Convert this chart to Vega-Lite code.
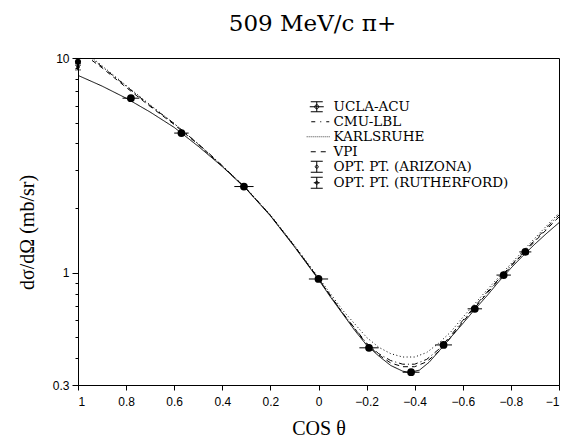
{
  "$schema": "https://vega.github.io/schema/vega-lite/v6.json",
  "width": 481,
  "height": 327,
  "autosize": {"type": "none"},
  "padding": {"left": 78, "top": 58, "right": 5, "bottom": 55},
  "background": "white",
  "title": {
    "text": "509 MeV/c  π+",
    "font": "DejaVu Serif",
    "fontSize": 23,
    "fontWeight": "normal",
    "color": "black",
    "anchor": "middle",
    "frame": "group",
    "baseline": "alphabetic",
    "offset": 19,
    "dx": -6,
    "dy": 21
  },
  "config": {
    "view": {"stroke": "black", "strokeWidth": 1},
    "axis": {
      "grid": false,
      "domainColor": "black",
      "tickColor": "black",
      "labelColor": "black",
      "titleColor": "black",
      "labelFont": "Liberation Sans",
      "labelFontSize": 12,
      "titleFont": "Liberation Serif",
      "titleFontSize": 20,
      "titleFontWeight": "normal"
    }
  },
  "datasets": {
    "curves": [
      {"model": "Fit", "cos": 1, "xs": 8.3},
      {"model": "Fit", "cos": 0.9, "xs": 7.4},
      {"model": "Fit", "cos": 0.8, "xs": 6.5},
      {"model": "Fit", "cos": 0.7, "xs": 5.6},
      {"model": "Fit", "cos": 0.6, "xs": 4.75},
      {"model": "Fit", "cos": 0.5, "xs": 3.88},
      {"model": "Fit", "cos": 0.4, "xs": 3.12},
      {"model": "Fit", "cos": 0.3, "xs": 2.45},
      {"model": "Fit", "cos": 0.2, "xs": 1.84},
      {"model": "Fit", "cos": 0.1, "xs": 1.32},
      {"model": "Fit", "cos": 0, "xs": 0.93},
      {"model": "Fit", "cos": -0.05, "xs": 0.77},
      {"model": "Fit", "cos": -0.1, "xs": 0.645},
      {"model": "Fit", "cos": -0.15, "xs": 0.54},
      {"model": "Fit", "cos": -0.2, "xs": 0.46},
      {"model": "Fit", "cos": -0.25, "xs": 0.41},
      {"model": "Fit", "cos": -0.3, "xs": 0.37},
      {"model": "Fit", "cos": -0.35, "xs": 0.348},
      {"model": "Fit", "cos": -0.38, "xs": 0.343},
      {"model": "Fit", "cos": -0.42, "xs": 0.352},
      {"model": "Fit", "cos": -0.46, "xs": 0.383},
      {"model": "Fit", "cos": -0.5, "xs": 0.43},
      {"model": "Fit", "cos": -0.55, "xs": 0.5},
      {"model": "Fit", "cos": -0.6, "xs": 0.58},
      {"model": "Fit", "cos": -0.65, "xs": 0.675},
      {"model": "Fit", "cos": -0.7, "xs": 0.78},
      {"model": "Fit", "cos": -0.75, "xs": 0.91},
      {"model": "Fit", "cos": -0.8, "xs": 1.05},
      {"model": "Fit", "cos": -0.85, "xs": 1.2},
      {"model": "Fit", "cos": -0.9, "xs": 1.36},
      {"model": "Fit", "cos": -0.95, "xs": 1.53},
      {"model": "Fit", "cos": -1, "xs": 1.71},

      {"model": "CMU-LBL", "cos": 1, "xs": 11.3},
      {"model": "CMU-LBL", "cos": 0.95, "xs": 10.1},
      {"model": "CMU-LBL", "cos": 0.9, "xs": 9.1},
      {"model": "CMU-LBL", "cos": 0.8, "xs": 7.4},
      {"model": "CMU-LBL", "cos": 0.7, "xs": 6.0},
      {"model": "CMU-LBL", "cos": 0.6, "xs": 4.95},
      {"model": "CMU-LBL", "cos": 0.5, "xs": 3.98},
      {"model": "CMU-LBL", "cos": 0.45, "xs": 3.55},
      {"model": "CMU-LBL", "cos": 0.4, "xs": 3.15},
      {"model": "CMU-LBL", "cos": 0.3, "xs": 2.46},
      {"model": "CMU-LBL", "cos": 0.2, "xs": 1.85},
      {"model": "CMU-LBL", "cos": 0.1, "xs": 1.33},
      {"model": "CMU-LBL", "cos": 0, "xs": 0.94},
      {"model": "CMU-LBL", "cos": -0.1, "xs": 0.65},
      {"model": "CMU-LBL", "cos": -0.2, "xs": 0.47},
      {"model": "CMU-LBL", "cos": -0.25, "xs": 0.42},
      {"model": "CMU-LBL", "cos": -0.3, "xs": 0.39},
      {"model": "CMU-LBL", "cos": -0.35, "xs": 0.375},
      {"model": "CMU-LBL", "cos": -0.4, "xs": 0.375},
      {"model": "CMU-LBL", "cos": -0.45, "xs": 0.395},
      {"model": "CMU-LBL", "cos": -0.5, "xs": 0.44},
      {"model": "CMU-LBL", "cos": -0.55, "xs": 0.51},
      {"model": "CMU-LBL", "cos": -0.6, "xs": 0.6},
      {"model": "CMU-LBL", "cos": -0.7, "xs": 0.81},
      {"model": "CMU-LBL", "cos": -0.8, "xs": 1.08},
      {"model": "CMU-LBL", "cos": -0.9, "xs": 1.42},
      {"model": "CMU-LBL", "cos": -1, "xs": 1.86},

      {"model": "KARLSRUHE", "cos": 1, "xs": 11.5},
      {"model": "KARLSRUHE", "cos": 0.95, "xs": 10.2},
      {"model": "KARLSRUHE", "cos": 0.9, "xs": 9.2},
      {"model": "KARLSRUHE", "cos": 0.8, "xs": 7.45},
      {"model": "KARLSRUHE", "cos": 0.7, "xs": 6.05},
      {"model": "KARLSRUHE", "cos": 0.6, "xs": 4.95},
      {"model": "KARLSRUHE", "cos": 0.5, "xs": 3.98},
      {"model": "KARLSRUHE", "cos": 0.4, "xs": 3.15},
      {"model": "KARLSRUHE", "cos": 0.3, "xs": 2.47},
      {"model": "KARLSRUHE", "cos": 0.2, "xs": 1.86},
      {"model": "KARLSRUHE", "cos": 0.1, "xs": 1.34},
      {"model": "KARLSRUHE", "cos": 0, "xs": 0.95},
      {"model": "KARLSRUHE", "cos": -0.1, "xs": 0.67},
      {"model": "KARLSRUHE", "cos": -0.2, "xs": 0.5},
      {"model": "KARLSRUHE", "cos": -0.25, "xs": 0.45},
      {"model": "KARLSRUHE", "cos": -0.3, "xs": 0.42},
      {"model": "KARLSRUHE", "cos": -0.35, "xs": 0.405},
      {"model": "KARLSRUHE", "cos": -0.4, "xs": 0.405},
      {"model": "KARLSRUHE", "cos": -0.45, "xs": 0.425},
      {"model": "KARLSRUHE", "cos": -0.5, "xs": 0.47},
      {"model": "KARLSRUHE", "cos": -0.55, "xs": 0.53},
      {"model": "KARLSRUHE", "cos": -0.6, "xs": 0.62},
      {"model": "KARLSRUHE", "cos": -0.7, "xs": 0.83},
      {"model": "KARLSRUHE", "cos": -0.8, "xs": 1.1},
      {"model": "KARLSRUHE", "cos": -0.9, "xs": 1.45},
      {"model": "KARLSRUHE", "cos": -1, "xs": 1.9},

      {"model": "VPI", "cos": 1, "xs": 11.0},
      {"model": "VPI", "cos": 0.95, "xs": 9.9},
      {"model": "VPI", "cos": 0.9, "xs": 9.0},
      {"model": "VPI", "cos": 0.8, "xs": 7.3},
      {"model": "VPI", "cos": 0.7, "xs": 5.95},
      {"model": "VPI", "cos": 0.6, "xs": 4.9},
      {"model": "VPI", "cos": 0.5, "xs": 3.95},
      {"model": "VPI", "cos": 0.4, "xs": 3.13},
      {"model": "VPI", "cos": 0.3, "xs": 2.46},
      {"model": "VPI", "cos": 0.2, "xs": 1.85},
      {"model": "VPI", "cos": 0.1, "xs": 1.33},
      {"model": "VPI", "cos": 0, "xs": 0.935},
      {"model": "VPI", "cos": -0.1, "xs": 0.65},
      {"model": "VPI", "cos": -0.2, "xs": 0.465},
      {"model": "VPI", "cos": -0.25, "xs": 0.415},
      {"model": "VPI", "cos": -0.3, "xs": 0.38},
      {"model": "VPI", "cos": -0.35, "xs": 0.365},
      {"model": "VPI", "cos": -0.4, "xs": 0.365},
      {"model": "VPI", "cos": -0.45, "xs": 0.385},
      {"model": "VPI", "cos": -0.5, "xs": 0.43},
      {"model": "VPI", "cos": -0.55, "xs": 0.5},
      {"model": "VPI", "cos": -0.6, "xs": 0.59},
      {"model": "VPI", "cos": -0.7, "xs": 0.8},
      {"model": "VPI", "cos": -0.8, "xs": 1.07},
      {"model": "VPI", "cos": -0.9, "xs": 1.4},
      {"model": "VPI", "cos": -1, "xs": 1.82}
    ],
    "points": [
      {"series": "UCLA-ACU", "cos": 0.78, "xs": 6.5, "cos_lo": 0.745, "cos_hi": 0.815, "xs_lo": 6.3, "xs_hi": 6.7},
      {"series": "UCLA-ACU", "cos": 0.57, "xs": 4.47, "cos_lo": 0.54, "cos_hi": 0.60, "xs_lo": 4.35, "xs_hi": 4.6},
      {"series": "UCLA-ACU", "cos": 0.31, "xs": 2.52, "cos_lo": 0.27, "cos_hi": 0.35, "xs_lo": 2.45, "xs_hi": 2.6},
      {"series": "UCLA-ACU", "cos": 0.0, "xs": 0.935, "cos_lo": -0.04, "cos_hi": 0.04, "xs_lo": 0.905, "xs_hi": 0.965},
      {"series": "UCLA-ACU", "cos": -0.21, "xs": 0.447, "cos_lo": -0.25, "cos_hi": -0.17, "xs_lo": 0.432, "xs_hi": 0.462},
      {"series": "UCLA-ACU", "cos": -0.385, "xs": 0.344, "cos_lo": -0.42, "cos_hi": -0.35, "xs_lo": 0.334, "xs_hi": 0.354},
      {"series": "UCLA-ACU", "cos": -0.52, "xs": 0.461, "cos_lo": -0.555, "cos_hi": -0.485, "xs_lo": 0.447, "xs_hi": 0.475},
      {"series": "UCLA-ACU", "cos": -0.65, "xs": 0.679, "cos_lo": -0.68, "cos_hi": -0.62, "xs_lo": 0.66, "xs_hi": 0.7},
      {"series": "UCLA-ACU", "cos": -0.77, "xs": 0.975, "cos_lo": -0.8, "cos_hi": -0.74, "xs_lo": 0.945, "xs_hi": 1.005},
      {"series": "UCLA-ACU", "cos": -0.86, "xs": 1.25, "cos_lo": -0.885, "cos_hi": -0.835, "xs_lo": 1.21, "xs_hi": 1.29},
      {"series": "OPT. PT. (ARIZONA)", "cos": 1, "xs": 9.6, "cos_lo": 1, "cos_hi": 1, "xs_lo": 9.25, "xs_hi": 9.95},
      {"series": "OPT. PT. (RUTHERFORD)", "cos": 1, "xs": 9.1, "cos_lo": 1, "cos_hi": 1, "xs_lo": 8.8, "xs_hi": 9.4}
    ]
  },
  "layer": [
    {
      "data": {"name": "curves"},
      "mark": {"type": "line", "clip": true, "color": "black", "strokeWidth": 1},
      "encoding": {
        "x": {
          "field": "cos",
          "type": "quantitative",
          "title": "COS θ",
          "scale": {"domain": [-1, 1], "reverse": true, "nice": false, "zero": false},
          "axis": {
            "values": [1, 0.8, 0.6, 0.4, 0.2, 0, -0.2, -0.4, -0.6, -0.8, -1],
            "format": "~g",
            "tickSize": 5,
            "labelPadding": 6,
            "titleY": 43,
            "titleBaseline": "middle"
          }
        },
        "y": {
          "field": "xs",
          "type": "quantitative",
          "title": "dσ/dΩ (mb/sr)",
          "scale": {"type": "log", "domain": [0.3, 10], "nice": false},
          "axis": {
            "values": [0.3, 0.4, 0.5, 0.6, 0.7, 0.8, 0.9, 1, 2, 3, 4, 5, 6, 7, 8, 9, 10],
            "format": "~g",
            "labelExpr": "datum.value === 0.3 || datum.value === 1 || datum.value === 10 ? datum.label : ''",
            "tickSize": {"condition": {"test": "datum.value === 0.3 || datum.value === 1 || datum.value === 10", "value": 6}, "value": 3},
            "labelPadding": 3,
            "titleX": -51,
            "titleY": 174,
            "titleAlign": "center",
            "titleBaseline": "middle",
            "titleAngle": -90
          }
        },
        "detail": {"field": "model"},
        "strokeDash": {
          "field": "model",
          "type": "nominal",
          "legend": null,
          "scale": {
            "domain": ["Fit", "CMU-LBL", "KARLSRUHE", "VPI"],
            "range": [[1, 0], [6, 3, 1, 3], [1, 2.5], [5, 4]]
          }
        }
      }
    },
    {
      "data": {"name": "points"},
      "mark": {"type": "point", "filled": false, "color": "black", "strokeWidth": 1, "opacity": 0, "size": 20},
      "encoding": {
        "x": {"field": "cos", "type": "quantitative", "title": "COS θ"},
        "y": {"field": "xs", "type": "quantitative", "title": "dσ/dΩ (mb/sr)"},
        "shape": {
          "field": "series",
          "type": "nominal",
          "scale": {
            "domain": ["UCLA-ACU", "CMU-LBL", "KARLSRUHE", "VPI", "OPT. PT. (ARIZONA)", "OPT. PT. (RUTHERFORD)"],
            "range": [
              "M-1.2,-1H1.2M0,-1V1M-1.2,1H1.2M-1.4,0H1.4M-0.4,0A0.4,0.4 0 1 1 0.4,0A0.4,0.4 0 1 1 -0.4,0Z",
              "M-1.1,0H-0.3M0.7,0H0.9M1.9,0H2.5",
              "M-2,0H-1.85M-1.6,0H-1.45M-1.2,0H-1.05M-0.8,0H-0.65M-0.4,0H-0.25M0,0H0.15M0.4,0H0.55M0.8,0H0.95M1.2,0H1.35M1.6,0H1.75M2,0H2.15M2.4,0H2.55",
              "M-1.2,0H-0.2M0.8,0H1.8",
              "M-1.2,-1.1H1.2M0,-1.1V1.1M-1.2,1.1H1.2M-0.3,0A0.3,0.3 0 1 1 0.3,0A0.3,0.3 0 1 1 -0.3,0Z",
              "M-1.2,-1.1H1.2M0,-1.1V1.1M-1.2,1.1H1.2M-0.6,0H0.6M-0.3,0A0.3,0.3 0 1 1 0.3,0A0.3,0.3 0 1 1 -0.3,0Z"
            ]
          },
          "legend": {
            "orient": "none",
            "legendX": 232,
            "legendY": 42,
            "title": null,
            "padding": 0,
            "rowPadding": 0,
            "symbolSize": 100,
            "symbolOpacity": 1,
            "symbolFillColor": "black",
            "symbolStrokeColor": "black",
            "symbolStrokeWidth": 1,
            "labelFont": "DejaVu Serif",
            "labelFontSize": 13.5,
            "labelColor": "black",
            "labelOffset": 10,
            "labelLimit": 300
          }
        }
      }
    },
    {
      "data": {"name": "points"},
      "mark": {"type": "rule", "color": "black", "strokeWidth": 1},
      "encoding": {
        "x": {"field": "cos_lo", "type": "quantitative", "title": "COS θ"},
        "x2": {"field": "cos_hi"},
        "y": {"field": "xs", "type": "quantitative", "title": "dσ/dΩ (mb/sr)"}
      }
    },
    {
      "data": {"name": "points"},
      "mark": {"type": "rule", "color": "black", "strokeWidth": 1.5},
      "encoding": {
        "x": {"field": "cos", "type": "quantitative", "title": "COS θ"},
        "y": {"field": "xs_lo", "type": "quantitative", "title": "dσ/dΩ (mb/sr)"},
        "y2": {"field": "xs_hi"}
      }
    },
    {
      "data": {"name": "points"},
      "transform": [{"filter": "datum.series !== 'UCLA-ACU'"}],
      "mark": {"type": "tick", "orient": "horizontal", "color": "black", "size": 6, "thickness": 1},
      "encoding": {
        "x": {"field": "cos", "type": "quantitative", "title": "COS θ"},
        "y": {"field": "xs_lo", "type": "quantitative", "title": "dσ/dΩ (mb/sr)"}
      }
    },
    {
      "data": {"name": "points"},
      "transform": [{"filter": "datum.series !== 'UCLA-ACU'"}],
      "mark": {"type": "tick", "orient": "horizontal", "color": "black", "size": 6, "thickness": 1},
      "encoding": {
        "x": {"field": "cos", "type": "quantitative", "title": "COS θ"},
        "y": {"field": "xs_hi", "type": "quantitative", "title": "dσ/dΩ (mb/sr)"}
      }
    },
    {
      "data": {"name": "points"},
      "mark": {"type": "circle", "color": "black", "opacity": 1},
      "encoding": {
        "x": {"field": "cos", "type": "quantitative", "title": "COS θ"},
        "y": {"field": "xs", "type": "quantitative", "title": "dσ/dΩ (mb/sr)"},
        "size": {
          "field": "series",
          "type": "nominal",
          "legend": null,
          "scale": {
            "domain": ["UCLA-ACU", "OPT. PT. (ARIZONA)", "OPT. PT. (RUTHERFORD)"],
            "range": [60, 14, 14]
          }
        }
      }
    }
  ]
}
